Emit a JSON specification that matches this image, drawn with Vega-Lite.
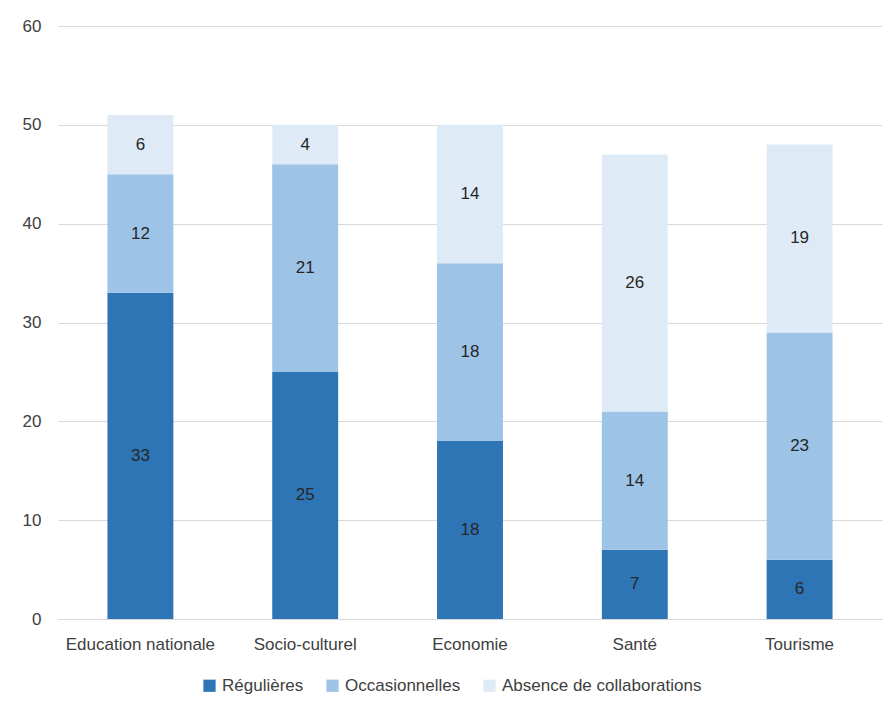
{
  "$schema": "https://vega.github.io/schema/vega-lite/v6.json",
  "width": 824,
  "height": 593,
  "autosize": {"type": "none"},
  "padding": {"left": 58, "top": 26, "right": 8, "bottom": 92},
  "background": "white",
  "config": {
    "view": {"stroke": null},
    "font": "Liberation Sans",
    "axis": {"labelFont": "Liberation Sans", "labelColor": "#404040", "labelFontSize": 17},
    "legend": {"labelFont": "Liberation Sans", "labelColor": "#404040", "labelFontSize": 17, "labelLimit": 400}
  },
  "data": {
    "values": [
      {"domaine": "Education nationale", "type": "Régulières", "ordre": 1, "valeur": 33},
      {"domaine": "Education nationale", "type": "Occasionnelles", "ordre": 2, "valeur": 12},
      {"domaine": "Education nationale", "type": "Absence de collaborations", "ordre": 3, "valeur": 6},
      {"domaine": "Socio-culturel", "type": "Régulières", "ordre": 1, "valeur": 25},
      {"domaine": "Socio-culturel", "type": "Occasionnelles", "ordre": 2, "valeur": 21},
      {"domaine": "Socio-culturel", "type": "Absence de collaborations", "ordre": 3, "valeur": 4},
      {"domaine": "Economie", "type": "Régulières", "ordre": 1, "valeur": 18},
      {"domaine": "Economie", "type": "Occasionnelles", "ordre": 2, "valeur": 18},
      {"domaine": "Economie", "type": "Absence de collaborations", "ordre": 3, "valeur": 14},
      {"domaine": "Santé", "type": "Régulières", "ordre": 1, "valeur": 7},
      {"domaine": "Santé", "type": "Occasionnelles", "ordre": 2, "valeur": 14},
      {"domaine": "Santé", "type": "Absence de collaborations", "ordre": 3, "valeur": 26},
      {"domaine": "Tourisme", "type": "Régulières", "ordre": 1, "valeur": 6},
      {"domaine": "Tourisme", "type": "Occasionnelles", "ordre": 2, "valeur": 23},
      {"domaine": "Tourisme", "type": "Absence de collaborations", "ordre": 3, "valeur": 19}
    ]
  },
  "transform": [
    {"stack": "valeur", "groupby": ["domaine"], "sort": [{"field": "ordre", "order": "ascending"}], "as": ["y0", "y1"]},
    {"calculate": "(datum.y0 + datum.y1) / 2", "as": "ymid"}
  ],
  "encoding": {
    "x": {
      "field": "domaine", "type": "nominal",
      "sort": ["Education nationale", "Socio-culturel", "Economie", "Santé", "Tourisme"],
      "scale": {"paddingInner": 0.6, "paddingOuter": 0.3},
      "axis": {"title": null, "labelAngle": 0, "ticks": false, "domainColor": "#d9d9d9", "labelPadding": 17}
    }
  },
  "layer": [
    {
      "mark": {"type": "bar"},
      "encoding": {
        "y": {
          "field": "y0", "type": "quantitative",
          "scale": {"domain": [0, 60]},
          "axis": {"title": null, "values": [0, 10, 20, 30, 40, 50, 60], "domain": false, "ticks": false, "gridColor": "#d9d9d9", "labelPadding": 17}
        },
        "y2": {"field": "y1"},
        "color": {
          "field": "type", "type": "nominal",
          "scale": {"domain": ["Régulières", "Occasionnelles", "Absence de collaborations"], "range": ["#2E75B6", "#9DC3E6", "#DEEBF7"]},
          "legend": {"title": null, "orient": "none", "legendX": 143, "legendY": 651, "direction": "horizontal", "symbolType": "square", "symbolSize": 150, "symbolStrokeWidth": 0, "columnPadding": 20, "labelOffset": 4}
        }
      }
    },
    {
      "mark": {"type": "text", "fontSize": 17, "color": "#262626", "font": "Liberation Sans"},
      "encoding": {
        "y": {"field": "ymid", "type": "quantitative"},
        "text": {"field": "valeur", "type": "quantitative"}
      }
    }
  ]
}
